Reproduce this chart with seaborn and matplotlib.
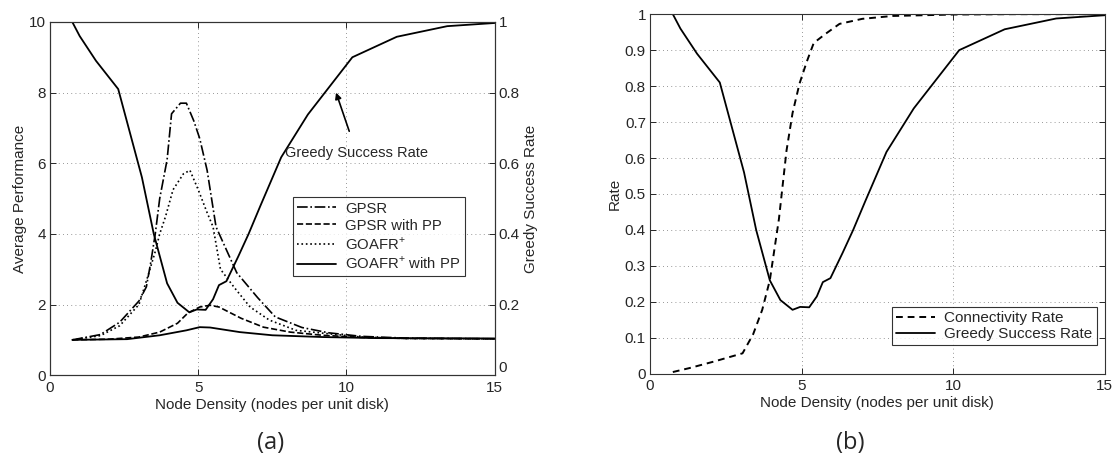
import matplotlib
matplotlib.use("Agg")
import matplotlib.pyplot as plt
import seaborn as sns

# Panel (a): average performance of the routing algorithms
gpsr_x = [0.75, 1.7, 2.35, 3.0, 3.25, 3.4, 3.55, 3.7, 3.95, 4.1, 4.4, 4.6, 4.85, 5.05, 5.3, 5.6, 6.3, 7.0, 7.6, 8.5, 9.4, 10.5, 12.0, 15.0]
gpsr_y = [1.0, 1.15, 1.5, 2.1, 2.5, 3.2, 4.0, 5.0, 6.1, 7.4, 7.7, 7.7, 7.2, 6.7, 5.8, 4.2, 2.9, 2.2, 1.65, 1.35, 1.2, 1.1, 1.05, 1.03]

gpsr_pp_x = [0.75, 2.0, 3.0, 3.7, 4.3, 4.65, 5.05, 5.4, 5.7, 6.45, 7.2, 8.1, 9.2, 10.5, 12.0, 15.0]
gpsr_pp_y = [1.0, 1.02, 1.08, 1.22, 1.47, 1.76, 1.93, 1.98, 1.93, 1.61, 1.36, 1.22, 1.13, 1.07, 1.04, 1.03]

goafr_x = [0.75, 1.7, 2.35, 3.0, 3.3, 3.55, 3.7, 3.9, 4.15, 4.5, 4.72, 5.0, 5.3, 5.5, 5.75, 6.2, 6.75, 7.4, 8.3, 9.2, 10.5, 12.0, 15.0]
goafr_y = [1.0, 1.12, 1.4, 2.0, 2.8, 3.5, 4.0, 4.5, 5.25, 5.7, 5.8, 5.25, 4.6, 4.2, 3.0, 2.5, 1.93, 1.56, 1.27, 1.19, 1.08, 1.04, 1.03]

goafr_pp_x = [0.75, 2.6, 3.7, 4.6, 5.05, 5.4, 6.4, 7.5, 9.2, 11.0, 15.0]
goafr_pp_y = [1.0, 1.02, 1.13, 1.27, 1.36, 1.35, 1.22, 1.13, 1.08, 1.05, 1.04]

# Greedy success rate (shared by both panels)
greedy_x = [0.75, 1.0, 1.55, 2.3, 3.1, 3.5, 3.95, 4.3, 4.7, 4.95, 5.25, 5.5, 5.7, 5.95, 6.35, 6.7, 7.1, 7.8, 8.7, 10.2, 11.7, 13.4, 15.0]
greedy_y = [1.0, 0.96, 0.89, 0.81, 0.56, 0.40, 0.26, 0.205, 0.178, 0.186, 0.185, 0.215, 0.255, 0.266, 0.336, 0.40, 0.48, 0.617, 0.738, 0.90, 0.958, 0.988, 0.997]

# Panel (b): connectivity rate
conn_x = [0.75, 1.3, 2.1, 3.05, 3.4, 3.7, 3.95, 4.25, 4.5, 4.7, 4.93, 5.17, 5.4, 5.8, 6.25, 7.0, 8.0, 10.0, 12.0, 15.0]
conn_y = [0.005, 0.016, 0.034, 0.057, 0.11, 0.178, 0.26, 0.43, 0.62, 0.725, 0.807, 0.868, 0.92, 0.946, 0.973, 0.987, 0.995, 0.999, 1.0, 1.0]

x_ticks = [0, 5, 10, 15]
perf_ticks = [0, 2, 4, 6, 8, 10]
rate_ticks_a = [0, 0.2, 0.4, 0.6, 0.8, 1.0]
rate_ticks_b = [0, 0.1, 0.2, 0.3, 0.4, 0.5, 0.6, 0.7, 0.8, 0.9, 1.0]

sns.set_style("ticks")
plt.rcParams["font.family"] = ["Liberation Sans", "DejaVu Sans"]
plt.rcParams["xtick.direction"] = "in"
plt.rcParams["ytick.direction"] = "in"
plt.rcParams["mathtext.fontset"] = "custom"
plt.rcParams["mathtext.rm"] = "Liberation Sans"

FS = 11
fig = plt.figure(figsize=(11.17, 4.57), dpi=100)

def fmt(v):
    return "{:g}".format(v)

def style_axes(ax):
    for s in ax.spines.values():
        s.set_linewidth(0.8)
        s.set_color("#333333")
    ax.tick_params(labelsize=FS, length=4, width=0.7, pad=3)
    ax.tick_params(axis="x", pad=4)

def grid(ax, xs, ys, xlim, ylim):
    for gx in xs:
        ax.plot([gx, gx], ylim, ls=(0, (1, 4)), color="#777777", lw=0.6, zorder=0)
    for gy in ys:
        ax.plot(xlim, [gy, gy], ls=(0, (1, 4)), color="#777777", lw=0.6, zorder=0)

# ---------- Panel (a) ----------
ax1 = fig.add_axes([0.0448, 0.179, 0.398, 0.773])
grid(ax1, [5, 10], [2, 4, 6, 8], (0, 15), (0, 10))
sns.lineplot(x=gpsr_x, y=gpsr_y, ax=ax1, color="k", lw=1.2, linestyle="-.", label="GPSR", sort=False)
sns.lineplot(x=gpsr_pp_x, y=gpsr_pp_y, ax=ax1, color="k", lw=1.2, linestyle="--", label="GPSR with PP", sort=False)
sns.lineplot(x=goafr_x, y=goafr_y, ax=ax1, color="k", lw=1.2, linestyle=":", label="GOAFR$^{+}$", sort=False)
sns.lineplot(x=goafr_pp_x, y=goafr_pp_y, ax=ax1, color="k", lw=1.3, linestyle="-", label="GOAFR$^{+}$ with PP", sort=False)
ax1.set_xlim(0, 15)
ax1.set_ylim(0, 10)
ax1.set_xticks(x_ticks)
ax1.set_xticklabels([fmt(v) for v in x_ticks])
ax1.set_yticks(perf_ticks)
ax1.set_yticklabels([fmt(v) for v in perf_ticks])
ax1.set_xlabel("Node Density (nodes per unit disk)", fontsize=FS, labelpad=2)
ax1.set_ylabel("Average Performance", fontsize=FS, labelpad=1)
style_axes(ax1)
ax1.tick_params(top=True)

ax1r = ax1.twinx()
sns.lineplot(x=greedy_x, y=greedy_y, ax=ax1r, color="k", lw=1.3, linestyle="-", sort=False, legend=False)
ax1r.set_ylim(0, 1)
ax1r.set_yticks(rate_ticks_a)
ax1r.set_yticklabels([fmt(v) for v in rate_ticks_a])
ax1r.set_ylabel("Greedy Success Rate", fontsize=FS, labelpad=3)
style_axes(ax1r)
# lift the bottom right-axis label so it clears the "15" below it
ax1r.get_yticklabels()[0].set_verticalalignment("bottom")

leg = ax1.legend(loc="upper left", bbox_to_anchor=(0.546, 0.504), fontsize=FS - 0.3,
                 frameon=True, fancybox=False, edgecolor="k", handlelength=2.6,
                 borderpad=0.3, labelspacing=0.2, handletextpad=0.6, borderaxespad=0)
leg.get_frame().set_linewidth(0.8)

ax1r.annotate("Greedy Success Rate", xy=(9.65, 0.80), xytext=(10.35, 0.628),
              fontsize=FS - 0.5, ha="center", va="center",
              arrowprops=dict(arrowstyle="-|>", color="k", lw=1.2,
                              shrinkA=9, shrinkB=0, mutation_scale=9))

fig.text(0.242, 0.03, "(a)", fontsize=17, ha="center", va="center", family="Open Sans")

# ---------- Panel (b) ----------
ax2 = fig.add_axes([0.582, 0.182, 0.407, 0.787])
grid(ax2, [5, 10], rate_ticks_b[1:-1], (0, 15), (0, 1))
sns.lineplot(x=conn_x, y=conn_y, ax=ax2, color="k", lw=1.4, linestyle=(0, (3.5, 2.5)), label="Connectivity Rate", sort=False)
sns.lineplot(x=greedy_x, y=greedy_y, ax=ax2, color="k", lw=1.3, linestyle="-", label="Greedy Success Rate", sort=False)
ax2.set_xlim(0, 15)
ax2.set_ylim(0, 1)
ax2.set_xticks(x_ticks)
ax2.set_xticklabels([fmt(v) for v in x_ticks])
ax2.set_yticks(rate_ticks_b)
ax2.set_yticklabels([fmt(round(v, 1)) for v in rate_ticks_b])
ax2.set_xlabel("Node Density (nodes per unit disk)", fontsize=FS, labelpad=2)
ax2.set_ylabel("Rate", fontsize=FS, labelpad=2)
style_axes(ax2)
ax2.tick_params(top=True, right=True)

leg2 = ax2.legend(loc="lower right", bbox_to_anchor=(0.982, 0.08), fontsize=FS,
                  frameon=True, fancybox=False, edgecolor="k", handlelength=2.6,
                  borderpad=0.25, labelspacing=0.15, handletextpad=0.6, borderaxespad=0)
leg2.get_frame().set_linewidth(0.8)

fig.text(0.761, 0.03, "(b)", fontsize=17, ha="center", va="center", family="Open Sans")

fig.savefig("out.png", dpi=100, facecolor="white")
